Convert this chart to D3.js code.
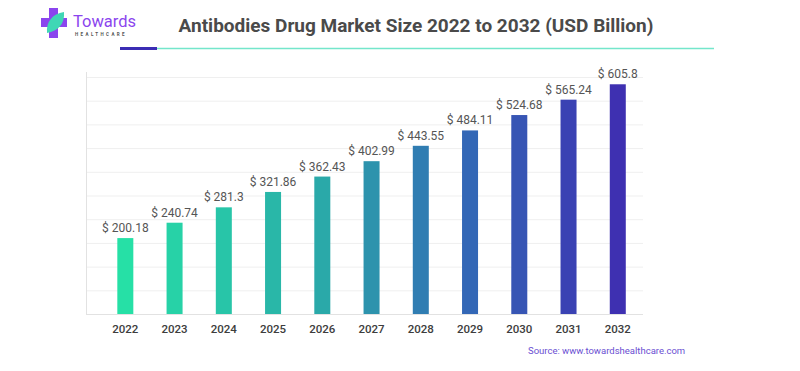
<!DOCTYPE html>
<html lang="en">
<head>
    <meta charset="UTF-8">
    <script src="https://d3js.org/d3.v7.min.js"></script>
    <title>Antibodies Drug Market Size</title>
    <style>
        body{
            margin: 0;
            background: #fff;
            font-family: Roboto, sans-serif;
        }
    </style>
</head>
<body>
<svg width="800" height="371"></svg>
<script>
// chart data
let years = ["2022","2023","2024","2025","2026","2027","2028","2029","2030","2031","2032"]
let values = [200.18,240.74,281.3,321.86,362.43,402.99,443.55,484.11,524.68,565.24,605.8]
let gridTicks = d3.range(0, 625.1, 62.5)

let svg = d3.select("svg")

// scales
let x = d3.scaleBand().domain(years).range([100.7, 642.4])
    .paddingInner(0.675).paddingOuter(0.3375)
let y = d3.scaleLinear().domain([0, 625]).range([314, 77])
let color = d3.scaleLinear()
    .domain([0, 4, 7, 10])
    .range(["#26e0a6", "#2aa9a9", "#3367b6", "#3e30b1"])
    .interpolate(d3.interpolateRgb)

// gridlines
svg.append("g").selectAll("line").data(gridTicks).enter().append("line")
    .attr("x1", 86).attr("x2", 643)
    .attr("y1", d => y(d) + 0.5).attr("y2", d => y(d) + 0.5)
    .attr("stroke", d => d === 0 ? "#e2e2e2" : "#efefef")
    .attr("stroke-width", 1)
svg.append("line")
    .attr("x1", 86.5).attr("x2", 86.5).attr("y1", 72).attr("y2", 315)
    .attr("stroke", "#e2e2e2")

// bars
svg.append("g").selectAll("rect").data(values).enter().append("rect")
    .attr("x", (d, i) => x(years[i]))
    .attr("width", x.bandwidth())
    .attr("y", d => y(d))
    .attr("height", d => y(0) - y(d))
    .attr("fill", (d, i) => color(i))

// value labels
svg.append("g").selectAll("text").data(values).enter().append("text")
    .attr("x", (d, i) => x(years[i]) + x.bandwidth() / 2)
    .attr("y", d => y(d) - 6)
    .attr("text-anchor", "middle")
    .attr("font-size", "12px")
    .attr("fill", "#555")
    .text(d => "$ " + d)

// year axis
let xAxis = d3.axisBottom(x).tickSize(0).tickPadding(11)
let gx = svg.append("g").attr("transform", "translate(0,314)").call(xAxis)
gx.select(".domain").remove()
gx.selectAll("text")
    .attr("font-family", "Roboto, sans-serif")
    .attr("font-size", "11.5px")
    .attr("font-weight", "500")
    .attr("fill", "#3d3d3d")

// title
svg.append("text")
    .attr("x", 416).attr("y", 32)
    .attr("text-anchor", "middle")
    .attr("font-size", "19px")
    .attr("font-weight", "bold")
    .attr("fill", "#4a4a4a")
    .text("Antibodies Drug Market Size 2022 to 2032 (USD Billion)")
svg.append("line")
    .attr("x1", 157).attr("x2", 714).attr("y1", 48.5).attr("y2", 48.5)
    .attr("stroke", "#74e6cb").attr("stroke-width", 1.5)
svg.append("line")
    .attr("x1", 120).attr("x2", 157).attr("y1", 48.5).attr("y2", 48.5)
    .attr("stroke", "#3b2db4").attr("stroke-width", 3)

// logo
let logo = svg.append("g")
logo.append("path")
    .attr("d", "M49,8 h9 v10 h9 v9 h-9 v11 h-9 v-11 h-8 v-9 h8 z")
    .attr("fill", "#8b45ee")
logo.append("path")
    .attr("d", "M47,33 C46,22 52,14 64,12 C65,24 58,31 47,33 Z")
    .attr("fill", "#3fd7b5")
logo.append("text")
    .attr("x", 73).attr("y", 27)
    .attr("font-size", "16.5px")
    .attr("fill", "#8b45ee")
    .text("Towards")
logo.append("text")
    .attr("x", 75).attr("y", 36)
    .attr("font-size", "4.5px")
    .attr("font-weight", "bold")
    .attr("letter-spacing", "2.4px")
    .attr("fill", "#555")
    .text("HEALTHCARE")

// source
svg.append("text")
    .attr("x", 528).attr("y", 354)
    .attr("font-size", "9.5px")
    .attr("fill", "#6a4fd2")
    .text("Source: www.towardshealthcare.com")
</script>
</body>
</html>
